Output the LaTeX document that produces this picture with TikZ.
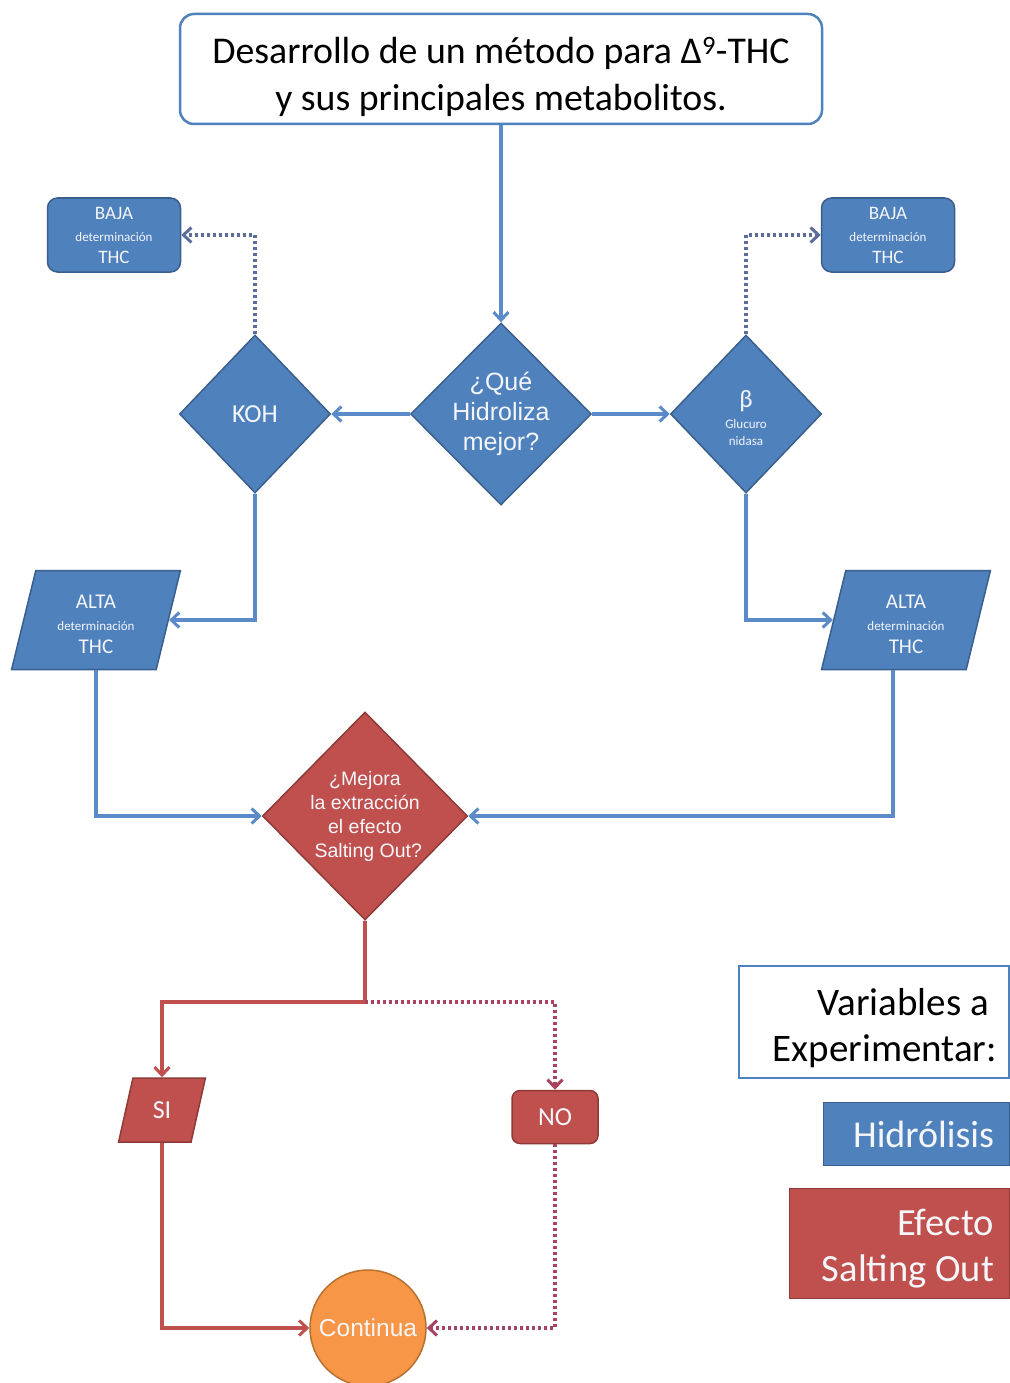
\documentclass[tikz,border=0pt]{standalone}
\usepackage{fontspec}
\setmainfont{Carlito}
\newfontfamily\arialf{Liberation Sans}
\usetikzlibrary{shapes.geometric,arrows.meta,calc}
\definecolor{bfill}{HTML}{4F81BD}
\definecolor{bdraw}{HTML}{3A5F8C}
\definecolor{bline}{HTML}{5A8AC8}
\definecolor{bdot}{HTML}{5C6C9C}
\definecolor{rfill}{HTML}{C0504D}
\definecolor{rdraw}{HTML}{8E3B38}
\definecolor{rline}{HTML}{C0504D}
\definecolor{rdot}{HTML}{A84462}
\definecolor{ofill}{HTML}{F79646}
\definecolor{odraw}{HTML}{B9712F}
\definecolor{wtext}{HTML}{F4F6FA}
\newcommand{\fs}[2]{\fontsize{#1}{#2}\selectfont}
\tikzset{
  bshape/.style={fill=bfill, draw=bdraw, line width=1.5pt, text=wtext, align=center, inner sep=0pt},
  rshape/.style={fill=rfill, draw=rdraw, line width=1.5pt, text=wtext, align=center, inner sep=0pt},
  rbox/.style={rectangle, rounded corners=10pt},
  dia/.style={diamond},
  para/.style={trapezium, trapezium stretches=true, trapezium left angle=77, trapezium right angle=103},
  tip/.style={-{Straight Barb[length=8pt,width=15pt,line width=3pt]}},
  bconn/.style={draw=bline, line width=3.3pt, tip},
  bdotted/.style={draw=bdot, line width=3.3pt, dash pattern=on 3pt off 3pt, tip},
  rconn/.style={draw=rline, line width=3.3pt},
  rdotted/.style={draw=rdot, line width=3.3pt, dash pattern=on 3pt off 3pt},
  deter/.style={font=\fs{19}{22}},
}
\newcommand{\detn}{{\fs{13}{22}determinación}}
\begin{document}
\begin{tikzpicture}[x=1pt,y=-1pt]
\useasboundingbox (0,0) rectangle (1009,1383);
\fill[white] (0,0) rectangle (1009,1383);

% title
\node[rectangle, rounded corners=14pt, draw=bfill, line width=2.5pt, fill=white, minimum width=642pt, minimum height=110pt, align=center, inner sep=0pt, font=\fs{37.8}{47}]
  (title) at (501,69) {\rule{0pt}{42pt}Desarrollo de un método para Δ\textsuperscript{9}-THC\\y sus principales metabolitos.};

% diamonds
\node[bshape, dia, minimum width=176pt, minimum height=182pt, font=\arialf\fs{25}{30}] (q) at (501,414)
  {¿Qué\\Hidroliza\\mejor?};
\node[bshape, dia, minimum width=151pt, minimum height=158pt, font=\fs{26}{30}] (koh) at (255,414) {KOH};
\node[bshape, dia, minimum width=151pt, minimum height=158pt, font=\fs{13}{17}] (beta) at (746,414)
  {\rule{0pt}{26pt}{\fs{25}{17}β}\\[4pt]Glucuro\\nidasa};

% BAJA boxes
\node[bshape, rbox, minimum width=133pt, minimum height=74pt, deter] (bajaL) at (114,235)
  {BAJA\\\detn\\THC};
\node[bshape, rbox, minimum width=133pt, minimum height=74pt, deter] (bajaR) at (888,235)
  {BAJA\\\detn\\THC};

% ALTA parallelograms
\node[bshape, para, minimum width=169pt, minimum height=99pt, deter, font=\fs{21}{22.5}] (altaL) at (96,620)
  {\rule{0pt}{22pt}ALTA\\\detn\\THC};
\node[bshape, para, minimum width=169pt, minimum height=99pt, deter, font=\fs{21}{22.5}] (altaR) at (906,620)
  {\rule{0pt}{22pt}ALTA\\\detn\\THC};

% red diamond
\node[rshape, dia, minimum width=205pt, minimum height=208pt, font=\arialf\fs{19.5}{24}] (red) at (365,816)
  {¿Mejora\\la extracción\\el efecto\\\,\,Salting Out?};

% SI / NO
\node[rshape, trapezium, trapezium stretches=true, trapezium left angle=75, trapezium right angle=105, minimum width=87pt, minimum height=64pt, font=\fs{26}{30}] (si) at (162,1110) {SI};
\node[rshape, rbox, rounded corners=8pt, minimum width=86pt, minimum height=53pt, font=\fs{26}{30}] (no) at (555,1117) {NO};

% Continua
\node[circle, fill=ofill, draw=odraw, line width=1.5pt, minimum size=116pt, inner sep=0pt, text=wtext, font=\arialf\fs{24.5}{28}] (cont) at (368,1328) {Continua};

% legend
\node[rectangle, draw=bfill, line width=2.5pt, fill=white, minimum width=270pt, minimum height=112pt, align=flush right, inner sep=0pt, text width=246pt, font=\fs{39}{46}] (legV) at (874,1022)
  {\rule{0pt}{40pt}Variables a\kern 8pt\\Experimentar:};
\node[rectangle, fill=bfill, draw=bdraw, line width=1pt, text=wtext, minimum width=186pt, minimum height=63pt, align=flush right, text width=156pt, inner sep=0pt, font=\fs{38}{46}] (legH) at (916,1134)
  {Hidrólisis};
\node[rectangle, fill=rfill, draw=rdraw, line width=1pt, text=wtext, minimum width=220pt, minimum height=110pt, align=flush right, text width=190pt, inner sep=0pt, font=\fs{38.5}{46}] (legE) at (899,1243)
  {\rule{0pt}{38pt}Efecto\\Salting Out};

% connectors
\draw[bconn] (title.south) -- (q.north);
\draw[bconn] (q.west) -- (koh.east);
\draw[bconn] (q.east) -- (beta.west);
\draw[bdotted] (koh.north) |- (bajaL.east);
\draw[bdotted] (beta.north) |- (bajaR.west);
\draw[bconn] (koh.south) |- (altaL.east);
\draw[bconn] (beta.south) |- (altaR.west);
\draw[bconn] (altaL.south) |- (red.west);
\draw[bconn] ([xshift=-13pt]altaR.south) |- (red.east);

\coordinate (j) at (365,1002);
\draw[rconn] (red.south) -- (j);
\draw[rconn, tip] (j) -| (si.north);
\draw[rdotted, tip] (j) -| (no.north);
\draw[rconn, tip] (si.south) |- (cont.west);
\draw[rdotted, tip] (no.south) |- (cont.east);
\end{tikzpicture}
\end{document}
